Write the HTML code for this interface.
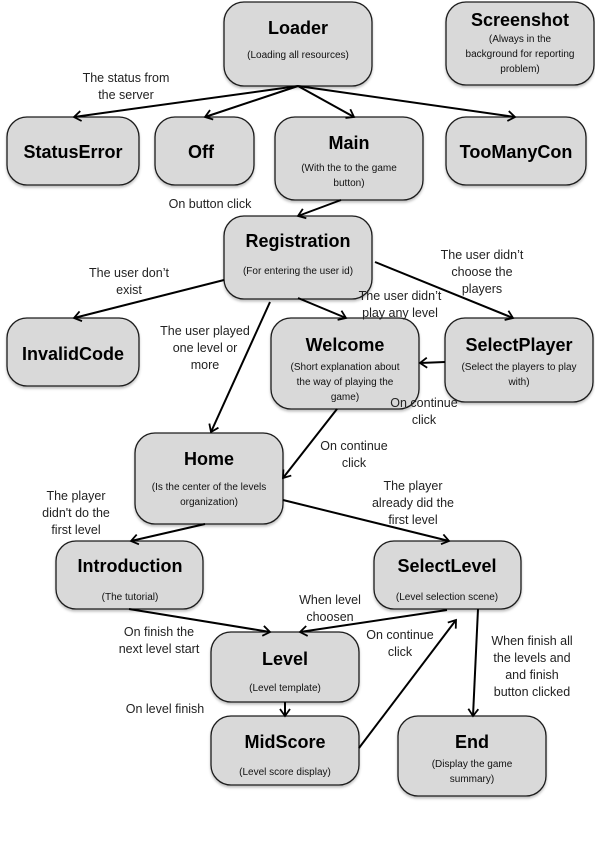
<!DOCTYPE html>
<html><head><meta charset="utf-8"><style>
html,body{margin:0;padding:0;background:#fff;}
svg{display:block;font-family:"Liberation Sans",sans-serif;}
.b{fill:#d9d9d9;stroke:#1a1a1a;stroke-width:1.3;}
.t{font-weight:bold;font-size:18px;fill:#000;text-anchor:middle;}
.s{font-size:10px;fill:#111;text-anchor:middle;}
.l{font-size:12.5px;fill:#222;text-anchor:middle;}
.c{stroke:#000;stroke-width:2;fill:none;}
</style></head><body>
<svg width="595" height="842" viewBox="0 0 595 842">
<defs>
<marker id="a" markerWidth="12" markerHeight="12" refX="9" refY="6" orient="auto" markerUnits="userSpaceOnUse">
<path d="M2,1 L9,6 L2,11" fill="none" stroke="#000" stroke-width="1.8"/></marker>
<filter id="sh" x="-10%" y="-10%" width="120%" height="130%"><feDropShadow dx="0" dy="2" stdDeviation="1.2" flood-opacity="0.25"/></filter>
</defs>
<g filter="url(#sh)">
<rect class="b" x="224" y="2" width="148" height="84" rx="20"/>
<rect class="b" x="446" y="2" width="148" height="83" rx="20"/>
<rect class="b" x="7" y="117" width="132" height="68" rx="20"/>
<rect class="b" x="155" y="117" width="99" height="68" rx="20"/>
<rect class="b" x="275" y="117" width="148" height="83" rx="20"/>
<rect class="b" x="446" y="117" width="140" height="68" rx="20"/>
<rect class="b" x="224" y="216" width="148" height="83" rx="20"/>
<rect class="b" x="7" y="318" width="132" height="68" rx="20"/>
<rect class="b" x="271" y="318" width="148" height="91" rx="20"/>
<rect class="b" x="445" y="318" width="148" height="84" rx="20"/>
<rect class="b" x="135" y="433" width="148" height="91" rx="20"/>
<rect class="b" x="56" y="541" width="147" height="68" rx="20"/>
<rect class="b" x="374" y="541" width="147" height="68" rx="20"/>
<rect class="b" x="211" y="632" width="148" height="70" rx="20"/>
<rect class="b" x="211" y="716" width="148" height="69" rx="20"/>
<rect class="b" x="398" y="716" width="148" height="80" rx="20"/>
</g>
<text class="t" x="298" y="34">Loader</text><text class="s" x="298" y="58">(Loading all resources)</text>
<text class="t" x="520" y="26">Screenshot</text><text class="s" x="520" y="42">(Always in the</text><text class="s" x="520" y="57">background for reporting</text><text class="s" x="520" y="72">problem)</text>
<text class="t" x="73" y="158">StatusError</text>
<text class="t" x="201" y="158">Off</text>
<text class="t" x="349" y="149">Main</text><text class="s" x="349" y="171">(With the to the game</text><text class="s" x="349" y="186">button)</text>
<text class="t" x="516" y="158">TooManyCon</text>
<text class="t" x="298" y="247">Registration</text><text class="s" x="298" y="274">(For entering the user id)</text>
<text class="t" x="73" y="360">InvalidCode</text>
<text class="t" x="345" y="351">Welcome</text><text class="s" x="345" y="370">(Short explanation about</text><text class="s" x="345" y="385">the way of playing the</text><text class="s" x="345" y="400">game)</text>
<text class="t" x="519" y="351">SelectPlayer</text><text class="s" x="519" y="370">(Select the players to play</text><text class="s" x="519" y="385">with)</text>
<text class="t" x="209" y="465">Home</text><text class="s" x="209" y="490">(Is the center of the levels</text><text class="s" x="209" y="505">organization)</text>
<text class="t" x="130" y="572">Introduction</text><text class="s" x="130" y="600">(The tutorial)</text>
<text class="t" x="447" y="572">SelectLevel</text><text class="s" x="447" y="600">(Level selection scene)</text>
<text class="t" x="285" y="665">Level</text><text class="s" x="285" y="691">(Level template)</text>
<text class="t" x="285" y="748">MidScore</text><text class="s" x="285" y="775">(Level score display)</text>
<text class="t" x="472" y="748">End</text><text class="s" x="472" y="767">(Display the game</text><text class="s" x="472" y="782">summary)</text>
<path class="c" marker-end="url(#a)" d="M298,86 L74,117"/>
<path class="c" marker-end="url(#a)" d="M298,86 L205,117"/>
<path class="c" marker-end="url(#a)" d="M298,86 L354,117"/>
<path class="c" marker-end="url(#a)" d="M298,86 L515,117"/>
<path class="c" marker-end="url(#a)" d="M341,200 L298,216"/>
<path class="c" marker-end="url(#a)" d="M224,280 L74,318"/>
<path class="c" marker-end="url(#a)" d="M270,302 L211,432"/>
<path class="c" marker-end="url(#a)" d="M298,298 L346,318"/>
<path class="c" marker-end="url(#a)" d="M375,262 L513,318"/>
<path class="c" marker-end="url(#a)" d="M445,362 L420,363"/>
<path class="c" marker-end="url(#a)" d="M337,409 L283,478"/>
<path class="c" marker-end="url(#a)" d="M283,500 L449,541"/>
<path class="c" marker-end="url(#a)" d="M205,524 L131,541"/>
<path class="c" marker-end="url(#a)" d="M129,609 L270,632"/>
<path class="c" marker-end="url(#a)" d="M447,610 L300,632"/>
<path class="c" marker-end="url(#a)" d="M285,702 L285,716"/>
<path class="c" marker-end="url(#a)" d="M359,748 L456,620"/>
<path class="c" marker-end="url(#a)" d="M478,609 L473,716"/>
<text class="l" x="126" y="82">The status from</text><text class="l" x="126" y="99">the server</text>
<text class="l" x="210" y="208">On button click</text>
<text class="l" x="129" y="277">The user don’t</text><text class="l" x="129" y="294">exist</text>
<text class="l" x="482" y="259">The user didn’t</text><text class="l" x="482" y="276">choose the</text><text class="l" x="482" y="293">players</text>
<text class="l" x="400" y="300">The user didn’t</text><text class="l" x="400" y="317">play any level</text>
<text class="l" x="205" y="335">The user played</text><text class="l" x="205" y="352">one level or</text><text class="l" x="205" y="369">more</text>
<text class="l" x="424" y="407">On continue</text><text class="l" x="424" y="424">click</text>
<text class="l" x="354" y="450">On continue</text><text class="l" x="354" y="467">click</text>
<text class="l" x="413" y="490">The player</text><text class="l" x="413" y="507">already did the</text><text class="l" x="413" y="524">first level</text>
<text class="l" x="76" y="500">The player</text><text class="l" x="76" y="517">didn't do the</text><text class="l" x="76" y="534">first level</text>
<text class="l" x="330" y="604">When level</text><text class="l" x="330" y="621">choosen</text>
<text class="l" x="400" y="639">On continue</text><text class="l" x="400" y="656">click</text>
<text class="l" x="159" y="636">On finish the</text><text class="l" x="159" y="653">next level start</text>
<text class="l" x="532" y="645">When finish all</text><text class="l" x="532" y="662">the levels and</text><text class="l" x="532" y="679">and finish</text><text class="l" x="532" y="696">button clicked</text>
<text class="l" x="165" y="713">On level finish</text>
</svg>
</body></html>
